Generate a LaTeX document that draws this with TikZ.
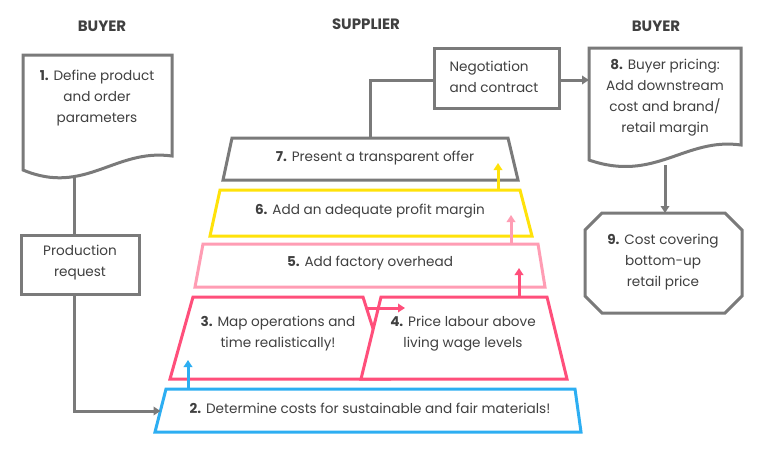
\documentclass[tikz,border=0pt]{standalone}
\usepackage{fontspec}
\setmainfont{Poppins}
\usetikzlibrary{arrows.meta}
\definecolor{lgray}{HTML}{7A7A7A}
\definecolor{tgray}{HTML}{404040}
\definecolor{cyel}{HTML}{FFE20A}
\definecolor{clpink}{HTML}{FF9DB4}
\definecolor{cdpink}{HTML}{FF4F7B}
\definecolor{cblue}{HTML}{2DAEF2}
\begin{document}
\begin{tikzpicture}[x=1pt,y=-1pt,
  lbl/.style={text=tgray, font=\fontsize{13.6}{21}\selectfont, align=center, inner sep=0pt},
  hdr/.style={text=tgray, font=\fontsize{15}{18}\selectfont\bfseries, inner sep=0pt},
  shp/.style={line width=3pt, fill=white},
  conn/.style={line width=3pt, draw=lgray},
  arr/.style={-{Triangle[length=7pt,width=8.5pt]}}
]
\useasboundingbox (0,0) rectangle (767,469);
\fill[white] (0,0) rectangle (767,469);

% headers
\node[hdr] (hb1) at (102,26) {BUYER};
\node[hdr] (hs) at (366,24) {SUPPLIER};
\node[hdr] (hb2) at (656,26) {BUYER};

% Box 1 (document)
\draw[shp, draw=lgray] (23,55) -- (172,55) -- (172,156) .. controls (115,148) and (85,196) .. (23,170) -- cycle;
\node[lbl] (t1) at (97,98) {\textbf{1.} Define product\\and order\\parameters};
\coordinate (d1b) at (74,178);

% Production request
\draw[shp, draw=lgray] (21,235) rectangle (139,294);
\node[lbl] (pr) at (80,262.5) {Production\\request};
\coordinate (prt) at (74,235);
\coordinate (prb) at (74,294);

% Trapezoid 2
\draw[shp, draw=cblue] (166,389) -- (575,389) -- (581,432) -- (155,432) -- cycle;
\node[lbl] (t2) at (370,408) {\textbf{2.} Determine costs for sustainable and fair materials!};
\coordinate (b2l) at (160.5,411);

% Trapezoid 3
\draw[shp, draw=cdpink] (193,297) -- (363,297) -- (389,379) -- (170,379) -- cycle;
\node[lbl] (t3) at (278,333.5) {\textbf{3.} Map operations and\\time realistically!};
% Trapezoid 4
\draw[shp, draw=cdpink] (381,297) -- (547,297) -- (567,379) -- (361,379) -- cycle;
\node[lbl] (t4) at (463,333.5) {\textbf{4.} Price labour above\\living wage levels};

% Trapezoid 5
\draw[shp, draw=clpink] (203,244) -- (538,244) -- (545,287) -- (195,287) -- cycle;
\node[lbl] (t5) at (370,263) {\textbf{5.} Add factory overhead};

% Trapezoid 6
\draw[shp, draw=cyel] (220,190) -- (520,190) -- (532,236) -- (210,236) -- cycle;
\node[lbl] (t6) at (370,211) {\textbf{6.} Add an adequate profit margin};

% Trapezoid 7
\draw[shp, draw=lgray] (232,138) -- (508,138) -- (518,180) -- (223,180) -- cycle;
\node[lbl] (t7) at (375,158) {\textbf{7.} Present a transparent offer};

% Negotiation box
\draw[shp, draw=lgray] (434,48) rectangle (559,108);
\node[lbl, align=left] (neg) at (494,77) {Negotiation\\and contract};

% Box 8 (document)
\draw[shp, draw=lgray] (589,48) -- (741,48) -- (741,145) .. controls (685,137) and (655,183) .. (589,160) -- cycle;
\node[lbl] (t8) at (665,98) {\textbf{8.} Buyer pricing:\\Add downstream\\cost and brand/\\retail margin};

% Box 9 (chamfered)
\draw[shp, draw=lgray] (602,213) -- (725,213) -- (742,230) -- (742,296) -- (725,313) -- (602,313) -- (585,296) -- (585,230) -- cycle;
\node[lbl] (t9) at (663,262) {\textbf{9.} Cost covering\\bottom-up\\retail price};

% coordinates for connectors
\coordinate (c7t) at (370,138);
\coordinate (c7k) at (370,80);
\coordinate (cnl) at (434,80);
\coordinate (cnr) at (559,80);
\coordinate (c8l) at (589,80);
\coordinate (c8b) at (665,165);
\coordinate (c9t) at (665,213);
\coordinate (cpk) at (74,411);
\coordinate (a2s) at (188,388);
\coordinate (a2e) at (188,360);
\coordinate (a3s) at (366.5,308);
\coordinate (a3e) at (405,308);
\coordinate (a4s) at (519,297);
\coordinate (a4e) at (519,268);
\coordinate (a5s) at (511,244);
\coordinate (a5e) at (511,215);
\coordinate (a6s) at (498,190);
\coordinate (a6e) at (498,163);

% connectors
\draw[conn] (d1b) -- (prt);
\draw[conn, arr] (prb) -- (cpk) -- (b2l);
\draw[conn] (c7t) -- (c7k) -- (cnl);
\draw[conn, arr] (cnr) -- (c8l);
\draw[conn, arr] (c8b) -- (c9t);
\draw[conn, draw=cblue, arr] (a2s) -- (a2e);
\draw[conn, draw=cdpink, arr] (a3s) -- (a3e);
\draw[conn, draw=cdpink, arr] (a4s) -- (a4e);
\draw[conn, draw=clpink, arr] (a5s) -- (a5e);
\draw[conn, draw=cyel, arr] (a6s) -- (a6e);
\end{tikzpicture}
\end{document}
